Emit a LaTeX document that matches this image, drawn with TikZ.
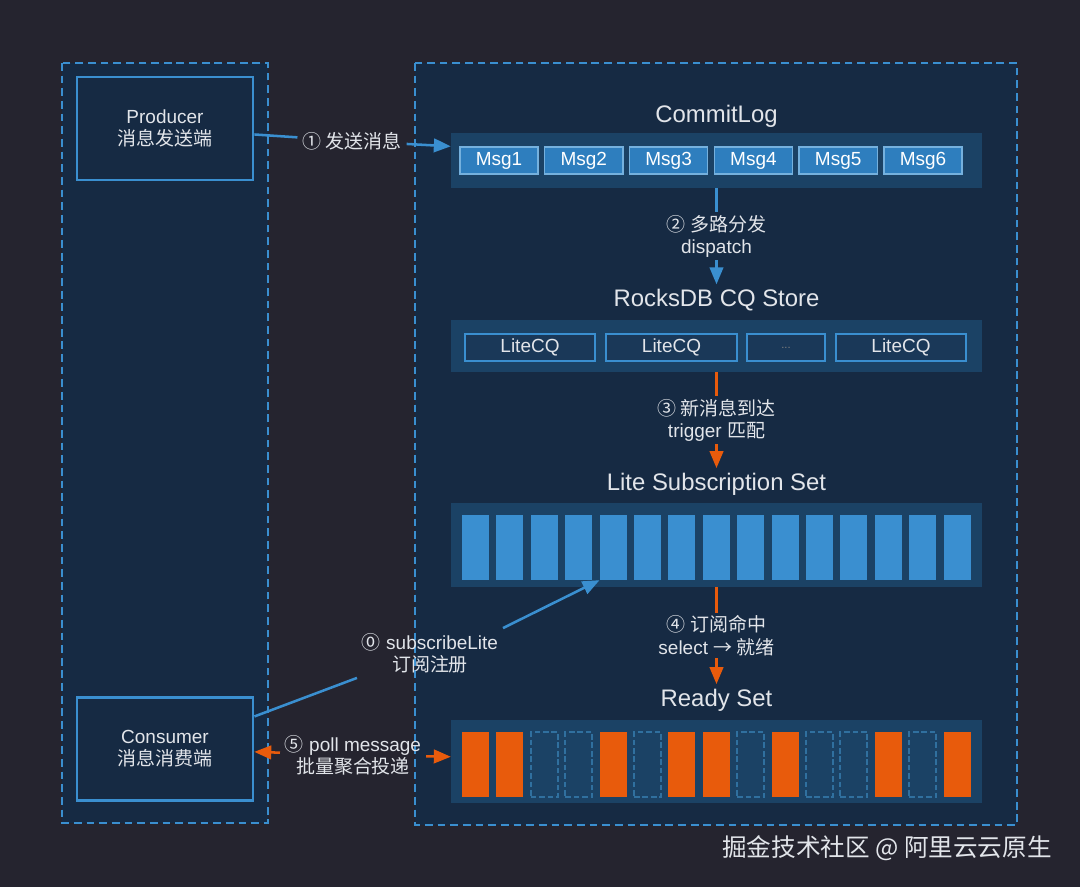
\documentclass[tikz,border=0pt]{standalone}
\usepackage{fontspec}
\setmainfont{Liberation Sans}
\newfontfamily\cjk{Noto Sans CJK SC}
\usetikzlibrary{arrows}
\usetikzlibrary{positioning}

\definecolor{bgcol}{HTML}{25242F}
\definecolor{panelcol}{HTML}{162A43}
\definecolor{bandcol}{HTML}{1B4265}
\definecolor{edgeblue}{HTML}{3A8FD0}
\definecolor{msgcol}{HTML}{2E7EBE}
\definecolor{cqcol}{HTML}{1A3858}
\definecolor{orangecol}{HTML}{E85B0C}
\definecolor{dashbar}{HTML}{30709F}
\definecolor{txtcol}{HTML}{E2E5EA}

\begin{document}
\begin{tikzpicture}[x=0.025cm, y=-0.025cm]
  \tikzset{every node/.style={text=txtcol, font=\fontsize{13.5}{15.8}\selectfont}};
  \tikzset{panel/.style={draw=edgeblue, fill=panelcol, line width=1.8pt, dash pattern=on 5.5pt off 3.5pt}};
  \tikzset{clientbox/.style={draw=edgeblue, fill=panelcol, line width=2pt, minimum width=4.4cm, minimum height=2.575cm, align=center}};
  \tikzset{band/.style={fill=bandcol, minimum width=13.275cm, inner sep=0pt}};
  \tikzset{msgbox/.style={draw=edgeblue!70!white, fill=msgcol, line width=1pt, minimum width=1.95cm, minimum height=0.675cm, inner sep=0pt, text=white}};
  \tikzset{cqbox/.style={draw=edgeblue, fill=cqcol, line width=1.2pt, minimum height=0.675cm, inner sep=0pt}};
  \tikzset{sbar/.style={fill=edgeblue, minimum width=0.675cm, minimum height=1.625cm, inner sep=0pt}};
  \tikzset{obar/.style={sbar, fill=orangecol}};
  \tikzset{dbar/.style={sbar, fill=none, draw=dashbar, line width=1.5pt, dash pattern=on 4pt off 2pt}};
  \tikzset{title/.style={font=\fontsize{17}{20}\selectfont}};
  \tikzset{lbl/.style={align=center, fill=panelcol, inner sep=2pt}};
  \tikzset{blueline/.style={draw=edgeblue, line width=1.8pt}};
  \tikzset{bluearrow/.style={blueline, ->, >=triangle 45}};
  \tikzset{orangearrow/.style={draw=orangecol, line width=1.8pt, ->, >=triangle 45}};

  \useasboundingbox (0,0) rectangle (1080,887);
  \fill[bgcol] (0,0) rectangle (1080,887);

  \draw[panel] (62,63) rectangle (268,823);
  \draw[panel] (415,63) rectangle (1017,825);

  \node[clientbox] (producer) at (165,128.5) {Producer\\{\cjk 消息发送端}};
  \node[clientbox] (consumer) at (165,749) {Consumer\\{\cjk 消息消费端}};

  % commit log
  \node[title] (clogtitle) at (716.5,116) {CommitLog};
  \node[band, minimum height=1.375cm] (clog) at (716.5,160.5) {};
  \foreach \i in {1,...,6}
    \node[msgbox] (msg\i) at ({414.2+84.8*\i},160.5) {Msg\i};

  % consume queues
  \node[title] (cqtitle) at (716.5,300) {RocksDB CQ Store};
  \node[band, minimum height=1.3cm] (cq) at (716.5,346) {};
  \node[cqbox, minimum width=3.25cm] (cq1) at (530,347.5) {LiteCQ};
  \node[cqbox, minimum width=3.275cm] (cq2) at (671.5,347.5) {LiteCQ};
  \node[cqbox, minimum width=1.95cm, text=gray] (cq3) at (786,347.5) {\fontsize{8}{9}\selectfont ...};
  \node[cqbox, minimum width=3.25cm] (cq4) at (901,347.5) {LiteCQ};

  % subscriptions
  \node[title] (subtitle) at (716.5,484) {Lite Subscription Set};
  \node[band, minimum height=2.1cm] (subset) at (716.5,545) {};
  \foreach \i in {1,...,15}
    \node[sbar] (sbar\i) at ({441.1+34.4*\i},547.5) {};

  % ready set
  \node[title] (readytitle) at (716.5,700) {Ready Set};
  \node[band, minimum height=2.075cm] (ready) at (716.5,761.5) {};
  \foreach \i/\kind in {1/obar,2/obar,3/dbar,4/dbar,5/obar,6/dbar,7/obar,8/obar,9/dbar,10/obar,11/dbar,12/dbar,13/obar,14/dbar,15/obar}
    \node[\kind] (rbar\i) at ({441.1+34.4*\i},764.5) {};

  \node (sendlabel) at (352,141) {\cjk ① 发送消息};
  \node[align=center] (sublabel) at (430,653) {{\cjk ⓪} subscribeLite\\{\cjk 订阅注册}};
  \node[align=center] (polllabel) at (353,755) {{\cjk ⑤} poll message\\{\cjk 批量聚合投递}};

  \draw[blueline] (producer) -- (sendlabel);
  \draw[bluearrow] (sendlabel) -- (clog);

  \draw[bluearrow] (clog) -- (cqtitle) node[midway, lbl] {{\cjk ② 多路分发}\\dispatch};
  \draw[orangearrow] (cq) -- (subtitle) node[midway, lbl] {{\cjk ③ 新消息到达}\\trigger {\cjk 匹配}};
  \draw[orangearrow] (subset) -- (readytitle) node[midway, lbl] {{\cjk ④ 订阅命中}\\select {\cjk → 就绪}};

  \draw[blueline] (consumer.20) -- (sublabel.south west);
  \draw[bluearrow] (sublabel.north east) -- (sbar5.south west);

  \draw[orangearrow] (polllabel) -- (consumer);
  \draw[orangearrow] (polllabel) -- (ready);

  \node[font={\cjk\fontsize{17.5}{21}\selectfont}] (mark) at (887,848) {掘金技术社区 @ 阿里云云原生};
\end{tikzpicture}
\end{document}
